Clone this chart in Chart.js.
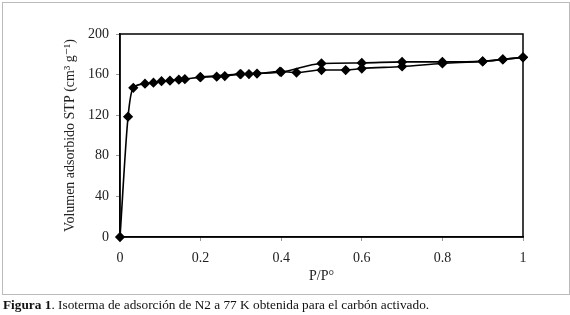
<!DOCTYPE html>
<html>
<head>
<meta charset="utf-8">
<script src="https://cdn.jsdelivr.net/npm/chart.js@4/dist/chart.umd.min.js"></script>
<style>
  body { margin: 0; background: #fff; }
  #frame { position: absolute; left: 2px; top: 2px; width: 566px; height: 291px; border: 1px solid #bbb; }
  #wrap { position: absolute; left: 0; top: 0; width: 570px; height: 300px; }
  #caption { position: absolute; left: 3px; top: 297px; font-family: "Liberation Serif", "Times New Roman", "DejaVu Serif", serif; font-size: 13.3px; color: #111; white-space: nowrap; }
</style>
</head>
<body>
<div id="frame"></div>
<div id="wrap"><canvas id="isoChart" width="570" height="300"></canvas></div>
<div id="caption"><b>Figura 1</b>. Isoterma de adsorción de N2 a 77 K obtenida para el carbón activado.</div>
<script>
// adsorcion (P/Po, volumen)
const adsP = [0, 0.02, 0.033, 0.062, 0.083, 0.103, 0.124, 0.146, 0.161, 0.199, 0.24, 0.26, 0.298, 0.32, 0.34, 0.397, 0.438, 0.5, 0.56, 0.6, 0.7, 0.8, 0.9, 0.95, 1.0];
const adsV = [0, 118.5, 147, 151, 152, 153.5, 154, 155, 155.5, 157.5, 158, 158.5, 160.5, 160.5, 161, 163, 162, 164.5, 164.5, 166, 168, 171, 173, 175, 177];
// desorcion
const desP = [1.0, 0.95, 0.9, 0.8, 0.7, 0.6, 0.5, 0.4, 0.3, 0.2];
const desV = [177, 175, 173, 172.5, 172.5, 171.5, 171, 162.5, 160.5, 157.5];

const xTicks = [0, 0.2, 0.4, 0.6, 0.8, 1];
const yTicks = [0, 40, 80, 120, 160, 200];

function toPoints(xs, ys) {
    const pts = [];
    for (let i = 0; i < xs.length; i++) {
        pts.push({x: xs[i], y: ys[i]});
    }
    return pts;
}

const serif = "'Liberation Serif', 'DejaVu Serif', serif";

const boxPlugin = {
    id: 'plotBox',
    afterDatasetsDraw(chart) {
        const a = chart.chartArea;
        const ctx = chart.ctx;
        ctx.save();
        ctx.strokeStyle = '#000';
        ctx.lineWidth = 1.5;
        ctx.strokeRect(a.left, a.top, a.right - a.left, a.bottom - a.top);
        ctx.restore();
    }
};

const lineStyle = {
    borderColor: '#000',
    backgroundColor: '#000',
    pointBackgroundColor: '#000',
    pointBorderColor: '#000',
    borderWidth: 1.6,
    pointStyle: 'rectRot',
    pointRadius: 4,
    tension: 0.3,
    cubicInterpolationMode: 'monotone',
    fill: false,
    clip: false
};

new Chart(document.getElementById('isoChart'), {
    type: 'scatter',
    data: {
        datasets: [
            Object.assign({label: 'adsorción', data: toPoints(adsP, adsV), showLine: true}, lineStyle),
            Object.assign({label: 'desorción', data: toPoints(desP, desV), showLine: true}, lineStyle)
        ]
    },
    options: {
        responsive: false,
        animation: false,
        layout: { padding: { left: 0, top: 34, right: 47, bottom: 0 } },
        plugins: { legend: { display: false }, tooltip: { enabled: false } },
        scales: {
            x: {
                type: 'linear',
                min: 0, max: 1,
                afterBuildTicks: s => { s.ticks = xTicks.map(v => ({value: v})); },
                afterFit: s => { s.height = 63; },
                ticks: { color: '#222', font: { family: serif, size: 14 }, padding: 9, maxRotation: 0,
                         callback: v => String(v) },
                grid: { drawOnChartArea: false, drawTicks: true, tickLength: 4, tickColor: '#999' },
                border: { color: '#000', width: 1.5 },
                title: { display: true, text: 'P/P°', color: '#222', font: { family: serif, size: 14 }, padding: { top: 0, bottom: 15 } }
            },
            y: {
                min: 0, max: 200,
                afterBuildTicks: s => { s.ticks = yTicks.map(v => ({value: v})); },
                afterFit: s => { s.width = 120; },
                ticks: { color: '#222', font: { family: serif, size: 14 }, padding: 7,
                         callback: v => String(v) },
                grid: { drawOnChartArea: false, drawTicks: true, tickLength: 4, tickColor: '#999' },
                border: { color: '#000', width: 1.5 },
                title: { display: true, text: 'Volumen adsorbido STP (cm³ g⁻¹)', color: '#222', font: { family: serif, size: 14 }, padding: { top: 62, bottom: 0 } }
            }
        }
    },
    plugins: [boxPlugin]
});
</script>
</body>
</html>
